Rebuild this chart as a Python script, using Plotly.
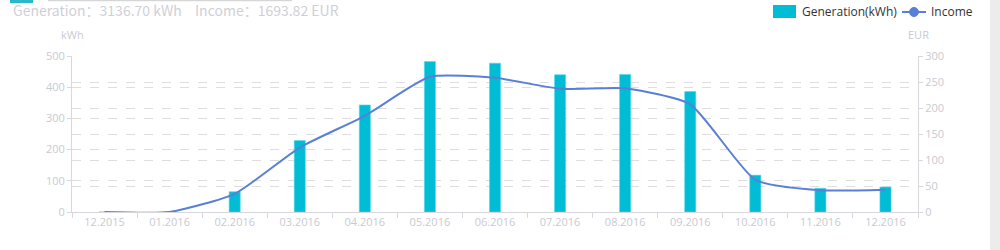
import plotly.graph_objects as go

months = ["12.2015", "01.2016", "02.2016", "03.2016", "04.2016", "05.2016", "06.2016",
          "07.2016", "08.2016", "09.2016", "10.2016", "11.2016", "12.2016"]
generation = [0, 0, 65, 229, 343, 482, 477, 440, 441, 386, 118, 76, 80]
income = [0, 0, 35, 124, 185, 260, 258, 237, 238, 207, 62, 42, 43]
left_ticks = [0, 100, 200, 300, 400, 500]
right_ticks = [0, 50, 100, 150, 200, 250, 300]

BAR = "#00bcd4"
LINE = "#5a7fd6"
TICK = "#c9cad2"
GRID = "#dedede"
FONT = "Open Sans"

fig = go.Figure()
fig.add_trace(go.Bar(x=months, y=generation, name="Generation(kWh)", width=0.17,
                     marker=dict(color=BAR, line=dict(color="#4fd8ea", width=0.6)),
                     showlegend=False))
fig.add_trace(go.Scatter(x=months, y=income, name="Income", yaxis="y2", mode="lines",
                         line=dict(color=LINE, width=2, shape="spline", smoothing=0.55),
                         cliponaxis=False, showlegend=False))

L, R, T, B = 72, 82, 56, 38
fig.update_layout(
    width=1000, height=250,
    margin=dict(l=L, r=R, t=T, b=B),
    paper_bgcolor="white", plot_bgcolor="white",
    font=dict(family=FONT, size=11, color=TICK),
    showlegend=False,
    bargap=0.8,
    xaxis=dict(type="category", tickson="boundaries", ticks="outside", ticklen=5,
               tickcolor="#d8d8dc", showline=True, linecolor="#d8d8dc", linewidth=1,
               showgrid=False, tickfont=dict(size=11, color=TICK), fixedrange=True,
               layer="below traces"),
    yaxis=dict(range=[0, 500], tickvals=left_ticks, ticks="outside", ticklen=4,
               tickcolor="#d8d8dc", showline=True, linecolor="#d8d8dc", linewidth=1,
               showgrid=True, gridcolor=GRID, griddash="dash", gridwidth=1,
               zeroline=False, tickfont=dict(size=11, color=TICK)),
    yaxis2=dict(range=[0, 300], tickvals=right_ticks, overlaying="y", side="right",
                ticks="outside", ticklen=4, tickcolor="#d8d8dc", showline=True,
                linecolor="#d8d8dc", linewidth=1, showgrid=True, gridcolor=GRID,
                griddash="dash", gridwidth=1, zeroline=False,
                tickfont=dict(size=11, color=TICK)),
)

# axis names
fig.add_annotation(text="kWh", xref="paper", yref="paper", x=0.0, y=1.0, yshift=22,
                   xanchor="center", yanchor="middle", showarrow=False,
                   font=dict(size=11, color=TICK, family=FONT))
fig.add_annotation(text="EUR", xref="paper", yref="paper", x=1.0, y=1.0, yshift=22,
                   xanchor="center", yanchor="middle", showarrow=False,
                   font=dict(size=11, color=TICK, family=FONT))

W = 1000 - L - R
def px(xp):
    return (xp - L) / W
H = 250 - T - B
def py(yp):
    return (250 - B - yp) / H

# title summary text
fig.add_annotation(text="Generation：3136.70 kWh", xref="paper", yref="paper",
                   x=px(11), y=py(10), xanchor="left", yanchor="middle", showarrow=False,
                   font=dict(size=14, color="#cfd0d6", family="Noto Sans CJK SC"))
fig.add_annotation(text="Income：1693.82 EUR", xref="paper", yref="paper",
                   x=px(193), y=py(10), xanchor="left", yanchor="middle", showarrow=False,
                   font=dict(size=14, color="#cfd0d6", family="Noto Sans CJK SC"))

# legend drawn manually
fig.add_shape(type="rect", xref="paper", yref="paper", x0=px(773), x1=px(796),
              y0=py(18), y1=py(5), fillcolor=BAR, line=dict(width=0))
fig.add_annotation(text="Generation(kWh)", xref="paper", yref="paper", x=px(800),
                   y=py(12), xanchor="left", yanchor="middle", showarrow=False,
                   font=dict(size=12, color="#333333", family=FONT))
fig.add_shape(type="line", xref="paper", yref="paper", x0=px(902), x1=px(926),
              y0=py(12), y1=py(12), line=dict(color=LINE, width=2))
fig.add_shape(type="circle", xref="paper", yref="paper", x0=px(909.5), x1=px(918.5),
              y0=py(16.5), y1=py(7.5), fillcolor=LINE, line=dict(color=LINE, width=1))
fig.add_annotation(text="Income", xref="paper", yref="paper", x=px(929),
                   y=py(12), xanchor="left", yanchor="middle", showarrow=False,
                   font=dict(size=12, color="#333333", family=FONT))

# cropped page decorations
fig.add_shape(type="rect", xref="paper", yref="paper", x0=px(10), x1=px(33),
              y0=py(3), y1=py(-1), fillcolor="#2bb8c9", line=dict(width=0))
fig.add_shape(type="rect", xref="paper", yref="paper", x0=px(48), x1=px(292),
              y0=py(1.2), y1=py(-1), fillcolor="#d6d6d6", line=dict(width=0))
fig.add_shape(type="rect", xref="paper", yref="paper", x0=px(990), x1=px(1001),
              y0=py(251), y1=py(-1), fillcolor="#ececec", line=dict(width=0))

fig.write_html("out.html")
